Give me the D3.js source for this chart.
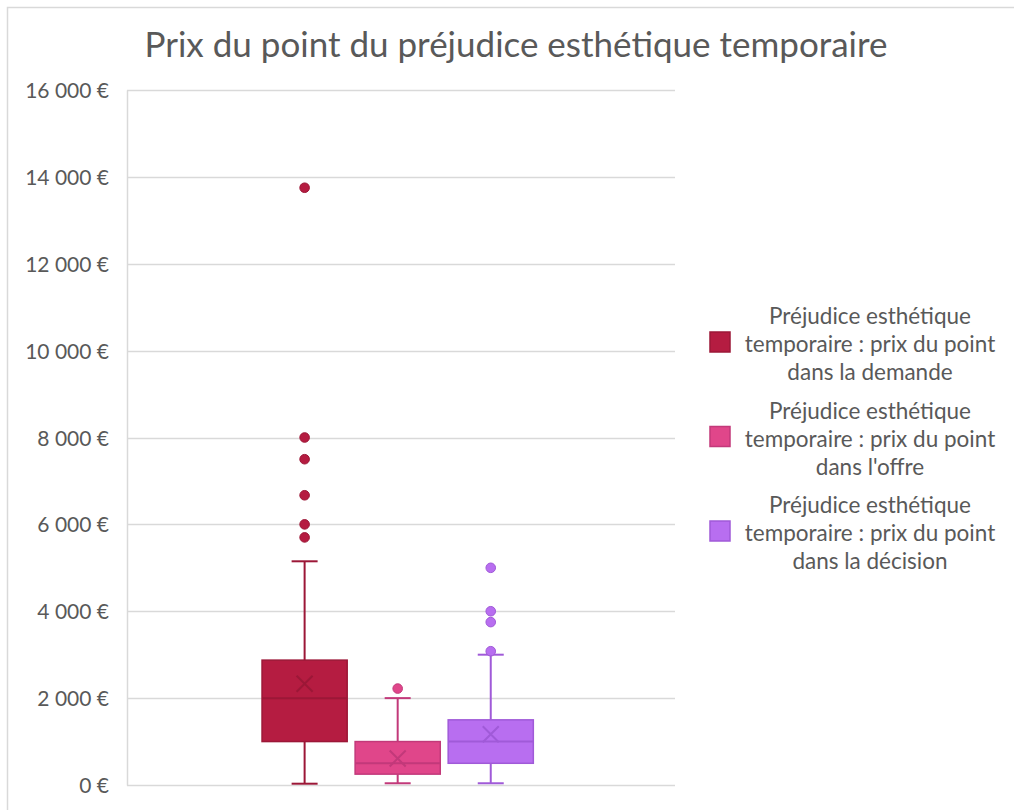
<!DOCTYPE html>
<html>
<head>
<meta charset="utf-8">
<script src="https://cdn.jsdelivr.net/npm/d3@7"></script>
<style>
  html, body { margin: 0; padding: 0; background: #fff; }
  svg { display: block; }
  text { font-family: "Lato", "Open Sans", sans-serif; fill: #595959; }
</style>
</head>
<body>
<svg id="chart" width="1014" height="810"></svg>
<script>
// Prix du point – box statistics per series
const category = "Préjudice esthétique temporaire";
const seriesNames = [
  "Préjudice esthétique temporaire : prix du point dans la demande",
  "Préjudice esthétique temporaire : prix du point dans l'offre",
  "Préjudice esthétique temporaire : prix du point dans la décision"
];
const legendLines = [
  ["Préjudice esthétique", "temporaire : prix du point", "dans la demande"],
  ["Préjudice esthétique", "temporaire : prix du point", "dans l'offre"],
  ["Préjudice esthétique", "temporaire : prix du point", "dans la décision"]
];
const whiskerLow  = [30, 40, 40];
const q1          = [1000, 250, 500];
const median      = [2000, 500, 1000];
const q3          = [2875, 1000, 1500];
const whiskerHigh = [5150, 2000, 3000];
const mean        = [2330, 610, 1170];
const outliers = [
  [5700, 6000, 6670, 7500, 8000, 13750],
  [2220],
  [3080, 3750, 4000, 5000]
];
const yTicks = [0, 2000, 4000, 6000, 8000, 10000, 12000, 14000, 16000];

const fills   = ["#b51c41", "#e0468a", "#b86ef0"];
const strokes = ["#9c1737", "#c2397a", "#a05ad8"];

const svg = d3.select("#chart");

// outer frame
svg.append("path")
  .attr("d", "M7.5,810 V7.5 H1014")
  .attr("fill", "none").attr("stroke", "#d9d9d9").attr("stroke-width", 1.5);

const plot = { left: 127, right: 675, top: 90, bottom: 785 };

const y = d3.scaleLinear().domain([0, 16000]).range([plot.bottom, plot.top]);

const x0 = d3.scaleBand().domain([category])
  .range([plot.left, plot.right]).paddingInner(0).paddingOuter(0.51).align(0.488);
const x1 = d3.scaleBand().domain(d3.range(seriesNames.length))
  .range([0, x0.bandwidth()]).paddingInner(0.085).paddingOuter(0);

const fr = d3.formatLocale({ decimal: ",", thousands: " ", grouping: [3], currency: ["", " €"] });
const fmt = v => fr.format(",")(v) + " €";

// gridlines
svg.append("g").selectAll("line").data(yTicks).join("line")
  .attr("x1", plot.left).attr("x2", plot.right)
  .attr("y1", d => Math.round(y(d)) + 0.5).attr("y2", d => Math.round(y(d)) + 0.5)
  .attr("stroke", "#d9d9d9").attr("stroke-width", 1.5);

// left axis
const yAxis = d3.axisLeft(y).tickValues(yTicks).tickFormat(fmt).tickSize(0).tickPadding(18);
const ag = svg.append("g").attr("transform", `translate(${plot.left},0)`).call(yAxis);
ag.select(".domain").attr("stroke", "#d9d9d9").attr("stroke-width", 1.5);
ag.selectAll("text").style("font-size", "21px").attr("fill", "#595959")
  .attr("dy", "0.36em");

// boxes
const groups = svg.append("g").selectAll("g").data(seriesNames).join("g")
  .attr("transform", (d, i) => `translate(${x0(category) + x1(i)},0)`);

const bw = x1.bandwidth();
const capW = 26;

groups.each(function (d, i) {
  const g = d3.select(this);
  const cx = bw / 2;
  // whiskers
  g.append("line").attr("x1", cx).attr("x2", cx)
    .attr("y1", y(q3[i])).attr("y2", y(whiskerHigh[i]))
    .attr("stroke", strokes[i]).attr("stroke-width", 2);
  g.append("line").attr("x1", cx).attr("x2", cx)
    .attr("y1", y(q1[i])).attr("y2", y(whiskerLow[i]))
    .attr("stroke", strokes[i]).attr("stroke-width", 2);
  [whiskerHigh[i], whiskerLow[i]].forEach(v => {
    g.append("line").attr("x1", cx - capW / 2).attr("x2", cx + capW / 2)
      .attr("y1", y(v)).attr("y2", y(v))
      .attr("stroke", strokes[i]).attr("stroke-width", 2);
  });
  // box
  g.append("rect").attr("x", 0).attr("width", bw)
    .attr("y", y(q3[i])).attr("height", y(q1[i]) - y(q3[i]))
    .attr("fill", fills[i]).attr("stroke", strokes[i]).attr("stroke-width", 1.5);
  // median
  g.append("line").attr("x1", 0).attr("x2", bw)
    .attr("y1", y(median[i])).attr("y2", y(median[i]))
    .attr("stroke", strokes[i]).attr("stroke-width", 2);
  // mean marker
  const my = y(mean[i]), s = 8;
  g.append("path")
    .attr("d", `M${cx - s},${my - s}L${cx + s},${my + s}M${cx - s},${my + s}L${cx + s},${my - s}`)
    .attr("stroke", strokes[i]).attr("stroke-width", 2).attr("fill", "none");
  // outliers
  g.selectAll("circle").data(outliers[i]).join("circle")
    .attr("cx", cx).attr("cy", v => y(v)).attr("r", 4.8)
    .attr("fill", fills[i]).attr("stroke", strokes[i]).attr("stroke-width", 1);
});

// title
svg.append("text").attr("x", 516).attr("y", 57).attr("text-anchor", "middle")
  .style("font-size", "35px").text("Prix du point du préjudice esthétique temporaire");

// legend
const lg = svg.append("g").selectAll("g").data(seriesNames).join("g")
  .attr("transform", (d, i) => `translate(0,${316 + i * 94.5})`);
lg.append("rect").attr("x", 710).attr("y", 16).attr("width", 20).attr("height", 20)
  .attr("fill", (d, i) => fills[i]).attr("stroke", (d, i) => strokes[i]).attr("stroke-width", 1.5);
lg.each(function (d, i) {
  d3.select(this).selectAll("text").data(legendLines[i]).join("text")
    .attr("x", 870).attr("y", (t, j) => j * 28).attr("dy", "0.36em")
    .attr("text-anchor", "middle").style("font-size", "22.5px").text(t => t);
});
</script>
</body>
</html>
